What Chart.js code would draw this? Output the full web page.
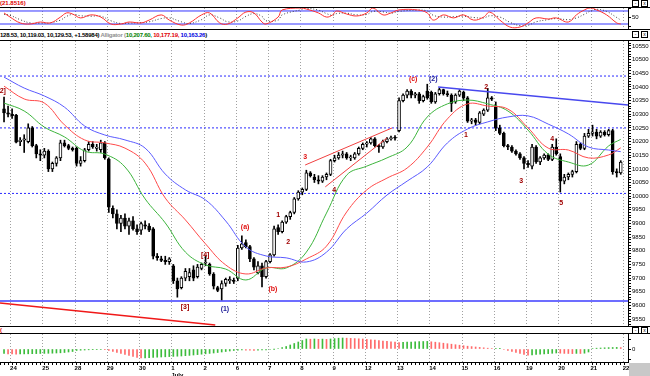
<!DOCTYPE html>
<html><head><meta charset="utf-8">
<script src="https://cdn.jsdelivr.net/npm/chart.js@4.4.1/dist/chart.umd.min.js"></script>
<style>
html,body{margin:0;padding:0;background:#fff;}
#wrap{position:relative;width:650px;height:376px;overflow:hidden;background:#fff;font-family:"Liberation Sans",Arial,sans-serif;}
canvas{position:absolute;left:0;}
.hl{position:absolute;left:0;width:650px;height:1px;background:#000;}
.txt{position:absolute;white-space:nowrap;font-weight:bold;font-size:6px;line-height:7px;}
.ico{position:absolute;width:5px;height:5px;border:1px solid #000;font-size:5px;line-height:5px;text-align:center;background:#fff;color:#000;}
</style></head><body>
<div id="wrap">
  <div class="txt" style="left:0;top:0;color:#e00000">(21.8516)</div>
  <div class="ico" style="left:632px;top:0">-</div><div class="ico" style="left:641px;top:0">x</div>
  <div class="hl" style="top:7px"></div>
  <canvas id="osc" width="650" height="21" style="top:8px"></canvas>
  <div class="hl" style="top:29px"></div>
  <div class="txt" style="left:0;top:32px;color:#000;letter-spacing:-0.24px">128.53, 10,119.03, 10,129.53, +1.58984) <span style="color:#909090">Alligator (</span><span style="color:#008000">10,207.60, </span><span style="color:#e00000">10,177.19, </span><span style="color:#0000e0">10,163.26</span>)</div>
  <div class="ico" style="left:632px;top:31px">-</div><div class="ico" style="left:641px;top:31px">x</div>
  <div class="hl" style="top:40px"></div>
  <canvas id="main" width="650" height="285" style="top:41px"></canvas>
  <div class="hl" style="top:326px"></div>
  <div class="txt" style="left:0;top:327px;color:#e00000">(</div>
  <div class="ico" style="left:632px;top:327px">-</div><div class="ico" style="left:641px;top:327px">x</div>
  <div class="hl" style="top:333px"></div>
  <canvas id="ao" width="650" height="42" style="top:334px"></canvas>
  <div style="position:absolute;left:629px;top:363px;width:21px;height:13px;background:#c8c8c8"></div>
</div>
<script>
// ---------- DATA ----------
const dayLabels = ['24','25','28','29','30','1','2','6','7','8','9','12','13','14','15','16','19','20','21','22'];

const opens = [10320,10305,10300,10297,10200,10205,10200,10250,10185,10155,10150,10165,10100,10120,10140,10195,10185,10175,10175,10120,10130,10170,10190,10175,10170,10195,
10135,9955,9935,9900,9920,9890,9910,9880,9875,9895,9890,9880,9780,9770,9765,9760,9745,9690,9665,9700,9705,9730,9705,9735,9755,9750,9715,9665,9660,9680,9690,9690,
9700,9810,9830,9815,9770,9720,9745,9705,9760,9785,9885,9870,9905,9925,9940,9990,10015,10025,10085,10070,10060,10055,10070,10080,10130,10140,10150,10155,10140,10140,10155,10175,
10190,10195,10210,10185,10180,10200,10210,10215,10240,10350,10370,10385,10370,10375,10350,10385,10380,10345,10375,10390,10375,10370,10345,10370,10380,10360,10275,10280,10270,10300,10315,10360,
10330,10250,10230,10185,10180,10165,10155,10140,10120,10110,10180,10125,10140,10150,10135,10180,10145,10055,10070,10080,10090,10190,10175,10220,10230,10235,10220,10235,10225,10240,10090,10085];
const highs = [10363,10330,10320,10300,10215,10225,10265,10255,10190,10170,10175,10170,10125,10145,10205,10205,10190,10180,10180,10145,10175,10200,10200,10190,10205,10200,
10140,9965,9950,9930,9935,9920,9925,9895,9905,9910,9900,9885,9790,9780,9780,9775,9750,9700,9705,9735,9735,9745,9750,9755,9780,9755,9720,9670,9690,9700,9705,9700,
9820,9855,9840,9820,9775,9760,9755,9765,9790,9890,9895,9910,9930,9945,9995,10020,10030,10095,10090,10080,10075,10075,10085,10135,10150,10160,10165,10160,10150,10160,10180,10195,
10200,10215,10215,10190,10205,10215,10220,10222,10360,10375,10390,10390,10380,10380,10370,10410,10385,10380,10395,10392,10385,10375,10375,10390,10385,10365,10285,10285,10310,10320,10395,10365,
10345,10260,10235,10190,10185,10170,10160,10145,10130,10190,10185,10145,10155,10155,10190,10210,10155,10080,10085,10095,10200,10195,10230,10245,10260,10245,10240,10240,10245,10245,10100,10130];
const lows = [10272,10290,10285,10195,10185,10160,10195,10180,10140,10130,10140,10090,10090,10110,10130,10180,10170,10165,10110,10110,10125,10165,10175,10165,10160,10135,
9940,9920,9880,9870,9880,9860,9875,9860,9860,9880,9870,9770,9765,9760,9750,9750,9680,9630,9660,9690,9690,9690,9700,9730,9745,9710,9660,9650,9620,9670,9680,9680,
9690,9805,9810,9760,9730,9715,9668,9700,9755,9780,9860,9865,9900,9915,9935,9985,10005,10020,10070,10050,10045,10050,10060,10075,10125,10135,10140,10135,10130,10135,10150,10170,
10180,10190,10180,10160,10175,10195,10205,10205,10235,10345,10360,10360,10360,10340,10345,10355,10340,10340,10370,10370,10365,10310,10340,10365,10350,10270,10265,10260,10265,10295,10310,10350,
10240,10225,10180,10170,10160,10150,10135,10100,10105,10100,10120,10115,10135,10130,10130,10150,10015,10045,10060,10070,10085,10170,10170,10215,10220,10210,10215,10220,10220,10080,10070,10080];
const closes = [10305,10300,10295,10198,10205,10210,10250,10185,10155,10150,10165,10100,10120,10140,10195,10185,10175,10170,10120,10130,10170,10190,10180,10180,10195,10140,
9960,9935,9900,9920,9890,9910,9880,9870,9900,9890,9875,9780,9775,9765,9760,9770,9690,9660,9700,9725,9720,9700,9740,9750,9755,9715,9670,9655,9680,9695,9695,9688,
9810,9825,9815,9770,9740,9745,9705,9760,9785,9880,9870,9905,9925,9940,9990,10015,10025,10085,10075,10060,10055,10070,10080,10130,10140,10150,10155,10140,10140,10155,10175,10190,
10195,10210,10185,10180,10200,10210,10215,10212,10350,10370,10385,10370,10375,10350,10365,10360,10345,10375,10390,10375,10372,10340,10370,10385,10360,10275,10280,10270,10305,10315,10360,10355,
10250,10230,10185,10180,10165,10155,10140,10120,10115,10180,10125,10140,10150,10135,10180,10155,10055,10070,10080,10090,10190,10175,10220,10230,10235,10220,10235,10225,10240,10090,10085,10125];

// Alligator lines, read at these bar positions
const alligatorIdx = [0,5,10,15,20,25,30,35,40,45,50,55,60,65,70,75,80,85,90,95,100,105,110,115,120,125,130,135,140,145,150,153];
const jaw   = [10436,10396,10367,10326,10257,10224,10206,10176,10081,10023,9986,9909,9814,9781,9774,9759,9795,9880,9938,10004,10055,10107,10195,10246,10272,10290,10294,10264,10228,10180,10169,10163];
const teeth = [10403,10356,10341,10261,10206,10195,10176,10121,9993,9913,9825,9748,9715,9737,9740,9770,9817,9942,10023,10066,10103,10180,10283,10338,10330,10319,10250,10176,10169,10140,10151,10177];
const lips  = [10341,10312,10253,10217,10165,10154,10107,9990,9902,9795,9748,9733,9693,9737,9737,9795,9938,10077,10110,10140,10180,10290,10338,10352,10338,10312,10242,10154,10125,10114,10184,10208];

// Oscillator (top panel), read at these bar positions
const oscIdx = [0,1.5,4,6.5,9,11.5,14,15.5,17,19,21.5,24,26.5,29,31,34,36,39,41,44,46,49,51,53.5,55.5,58,60,62,64,65,68,69,73.5,75,78,80,81.5,82.5,85,87.5,90,91.5,94,96,98,102.5,105,106.5,109,111.5,114,116.5,119,120.5,123,125.5,128,130,132,135,137,140,142,144,145.5,147,149.5,152,153];
const oscMain = [71,52,25,20,29,25,52,71,66,48,62,52,20,20,29,25,38,62,38,15,25,62,71,25,20,48,75,71,29,20,52,85,94,89,71,52,62,80,66,57,71,94,62,71,85,85,71,38,62,48,62,38,52,75,38,6,6,25,48,43,48,29,62,85,94,85,62,25,20];
const oscSignal = [65,60,40,25,24,26,38,55,64,58,56,56,35,22,24,26,30,45,48,30,22,40,62,48,30,34,55,68,55,35,38,62,85,92,84,68,60,68,70,62,64,78,76,70,78,84,80,60,52,54,56,50,48,58,52,28,12,14,30,40,45,40,48,65,80,88,78,50,38];
const oscLevels = [80, 20];

// Awesome-oscillator histogram (one value per bar)
const aoValues = [-45,-48,-50,-52,
-50,-49,-48,-47,-46,-45,-44,-43,-42,-40,-38,-35,-30,-25,
-15,-12,-10,-8,-7,-6,-5,-6,
-15,-25,-35,-45,-55,-65,-75,-85,-90,
-88,-86,-84,-82,-80,-78,-76,-74,-72,-70,-67,-64,-60,-56,-52,-48,-44,-40,-35,-30,-25,-20,-15,
-12,-10,-11,-12,-13,-12,-10,-8,-5,-2,
5,15,25,40,55,70,85,100,
98,100,97,99,96,
100,104,108,110,
108,106,104,102,100,
96,92,88,84,80,76,72,68,64,
66,68,70,72,74,75,76,
72,68,63,58,53,48,43,38,
33,28,24,20,16,12,8,5,
6,7,
-5,-15,-25,-35,-45,-55,-62,
-58,-55,-52,-49,-46,-43,-40,
-42,-44,-45,-46,-44,-45,-42,
-30,
5,8,10,12,14,15,16,
14];

// Horizontal levels and trend lines (bar index / price)
const resistanceLevels = [10440, 10250, 10010];
const supportLevel = 9616;
const blueTrendIdx = [107.7, 154.8], blueTrendVal = [10400, 10334];
const redTrendIdx = [-1, 52.4], redTrendVal = [9609, 9528];
const wedgeUpIdx = [74.7, 96.3], wedgeUpVal = [10114, 10250];
const wedgeLoIdx = [79.7, 95], wedgeLoVal = [10034, 10213];

// Wave labels
const waveText  = ['[2]','[3]','[4]','(1)','(a)','(b)','1','2','3','4','(c)','(2)','1','2','3','4','5'];
const waveIdx   = [-0.6,44.9,49.9,54.8,59.8,66.7,68,70.5,74.7,81.9,101.5,106.5,114.6,119.6,128.3,136,138.2];
const wavePrice = [10385,9594,9784,9587,9887,9660,9931,9832,10143,10023,10429,10429,10224,10400,10055,10209,9975];
const waveKind  = ['dk','dk','dk','nv','rd','rd','dk','dk','rd','dk','rd','nv','dk','dk','dk','dk','dk'];

// ---------- RENDER ----------
Chart.defaults.font.family = '"Liberation Sans", Arial, sans-serif';
Chart.defaults.animation = false;
const X_MIN = -1, X_MAX = 154.8;
const BARS_PER_DAY = 8, FIRST_DAY_BOUNDARY = 1.5;
const dayBoundary = d => FIRST_DAY_BOUNDARY + BARS_PER_DAY * d;
const waveColors = {dk:'#a00000', rd:'#e01010', nv:'#20209a'};

const dayGrid = {
  id: 'dayGrid',
  beforeDatasetsDraw(chart) {
    const {ctx, chartArea: a, scales: {x}} = chart;
    ctx.save();
    ctx.strokeStyle = '#a0a0a0'; ctx.lineWidth = 1; ctx.setLineDash([1, 2]);
    dayLabels.forEach((_, d) => {
      const px = Math.round(x.getPixelForValue(dayBoundary(d))) + 0.5;
      ctx.beginPath(); ctx.moveTo(px, a.top); ctx.lineTo(px, a.bottom); ctx.stroke();
    });
    ctx.restore();
  }
};

const waveLabels = {
  id: 'waveLabels',
  afterDatasetsDraw(chart) {
    const {ctx, scales: {x, y}} = chart;
    ctx.save();
    ctx.font = 'bold 7px "Liberation Sans", Arial, sans-serif';
    ctx.textAlign = 'center'; ctx.textBaseline = 'middle';
    waveText.forEach((t, k) => {
      ctx.fillStyle = waveColors[waveKind[k]];
      ctx.fillText(t, x.getPixelForValue(waveIdx[k]), y.getPixelForValue(wavePrice[k]));
    });
    ctx.restore();
  }
};

function yRight(min, max, tickValues, labelFn) {
  return {
    position: 'right', min, max,
    afterFit(s) { s.width = 22; s.paddingTop = 0; s.paddingBottom = 0; },
    afterBuildTicks(s) { s.ticks = tickValues.map(v => ({value: v})); },
    border: {display: true, color: '#000'},
    grid: {display: true, drawOnChartArea: false, drawTicks: true, tickLength: 3, tickColor: '#000'},
    ticks: {autoSkip: false, padding: 1, color: '#000', font: {size: 6}, callback: labelFn}
  };
}
const xHidden = {type: 'linear', min: X_MIN, max: X_MAX, offset: false, display: false};
const pts = (idx, vals) => idx.map((v, k) => ({x: v, y: vals[k]}));
const lineDs = (data, color, extra) => Object.assign({type: 'line', data, borderColor: color, borderWidth: 1, pointRadius: 0, fill: false, tension: 0.4, order: 1}, extra || {});
const baseOpts = {responsive: false, animation: false, events: [], layout: {padding: 0}, plugins: {legend: {display: false}, tooltip: {enabled: false}}};

// Oscillator panel
new Chart(document.getElementById('osc'), {
  type: 'line',
  data: {datasets: [
    lineDs(pts([X_MIN, X_MAX], [oscLevels[0], oscLevels[0]]), '#3434ff', {tension: 0, order: 5}),
    lineDs(pts([X_MIN, X_MAX], [oscLevels[1], oscLevels[1]]), '#9a9aff', {tension: 0, borderWidth: 2, order: 5}),
    lineDs(pts(oscIdx, oscSignal), '#404040', {borderDash: [1, 2], order: 2}),
    lineDs(pts(oscIdx, oscMain), '#ff3030', {order: 1})
  ]},
  options: Object.assign({}, baseOpts, {scales: {
    x: xHidden,
    y: yRight(-3.1, 93.8, [10, 50, 90], v => v === 50 ? '50' : '')
  }}),
  plugins: [dayGrid]
});

// Main price panel
const mainTicks = [];
for (let v = 9530; v <= 10560; v += 10) mainTicks.push(v);
new Chart(document.getElementById('main'), {
  type: 'bar',
  data: {datasets: [
    ...resistanceLevels.map(v => lineDs(pts([X_MIN, X_MAX], [v, v]), '#2a2aff', {tension: 0, borderDash: [2, 2], order: 6})),
    lineDs(pts([X_MIN, X_MAX], [supportLevel, supportLevel]), '#3c3cff', {tension: 0, borderWidth: 1.5, order: 6}),
    {type: 'bar', data: lows.map((l, i) => ({x: i, y: [l, highs[i]]})), backgroundColor: '#000', barThickness: 1, grouped: false, order: 4},
    {type: 'bar', data: opens.map((o, i) => ({x: i, y: [o, closes[i]]})),
     backgroundColor: c => closes[c.dataIndex] >= opens[c.dataIndex] ? '#fff' : '#000',
     borderColor: '#000', borderWidth: 1, borderSkipped: false, barThickness: 3, grouped: false, minBarLength: 1, order: 3},
    lineDs(pts(alligatorIdx, jaw), '#5a5aff'),
    lineDs(pts(alligatorIdx, teeth), '#ff4a4a'),
    lineDs(pts(alligatorIdx, lips), '#3cb43c'),
    lineDs(pts(blueTrendIdx, blueTrendVal), '#4848ee', {tension: 0, borderWidth: 1.5, order: 0}),
    lineDs(pts(redTrendIdx, redTrendVal), '#f01818', {tension: 0, borderWidth: 1.5, order: 0}),
    lineDs(pts(wedgeUpIdx, wedgeUpVal), '#f04040', {tension: 0, order: 0}),
    lineDs(pts(wedgeLoIdx, wedgeLoVal), '#f04040', {tension: 0, order: 0})
  ]},
  options: Object.assign({}, baseOpts, {scales: {
    x: xHidden,
    y: yRight(9524.4, 10568.3, mainTicks, v => Math.round(v) % 50 === 0 ? String(v) : '')
  }}),
  plugins: [dayGrid, waveLabels]
});

// AO histogram panel with the date axis
const xTicks = [];
for (let v = X_MIN + 0.5; v <= X_MAX; v += 1) xTicks.push(v);
new Chart(document.getElementById('ao'), {
  type: 'bar',
  data: {datasets: [
    {type: 'bar', data: aoValues.map((v, i) => ({x: i, y: v})),
     backgroundColor: c => (c.dataIndex === 0 || aoValues[c.dataIndex] >= aoValues[c.dataIndex - 1]) ? '#3cbc3c' : '#ff6a6a',
     barThickness: 1, grouped: false}
  ]},
  options: Object.assign({}, baseOpts, {scales: {
    x: {type: 'linear', min: X_MIN, max: X_MAX, offset: false, position: 'bottom',
        afterFit(s) { s.height = 14; s.paddingLeft = 0; s.paddingRight = 0; },
        afterBuildTicks(s) { s.ticks = xTicks.map(v => ({value: v})); },
        border: {display: true, color: '#000'},
        grid: {display: true, drawOnChartArea: false, drawTicks: true, tickLength: 3, tickColor: '#000'},
        ticks: {autoSkip: false, maxRotation: 0, align: 'start', padding: 0, color: '#000', font: {size: 6, weight: 'bold'},
          callback: v => {
            const d = (v - FIRST_DAY_BOUNDARY) / BARS_PER_DAY;
            if (Math.abs(d - Math.round(d)) > 1e-6 || d < 0 || d >= dayLabels.length) return '';
            const lab = dayLabels[Math.round(d)];
            return lab === '1' ? ['1', 'July'] : lab;
          }}},
    y: yRight(-130, 150, [-100, 0, 100], v => v === 0 ? '0' : '')
  }}),
  plugins: [dayGrid]
});
</script>
</body></html>
